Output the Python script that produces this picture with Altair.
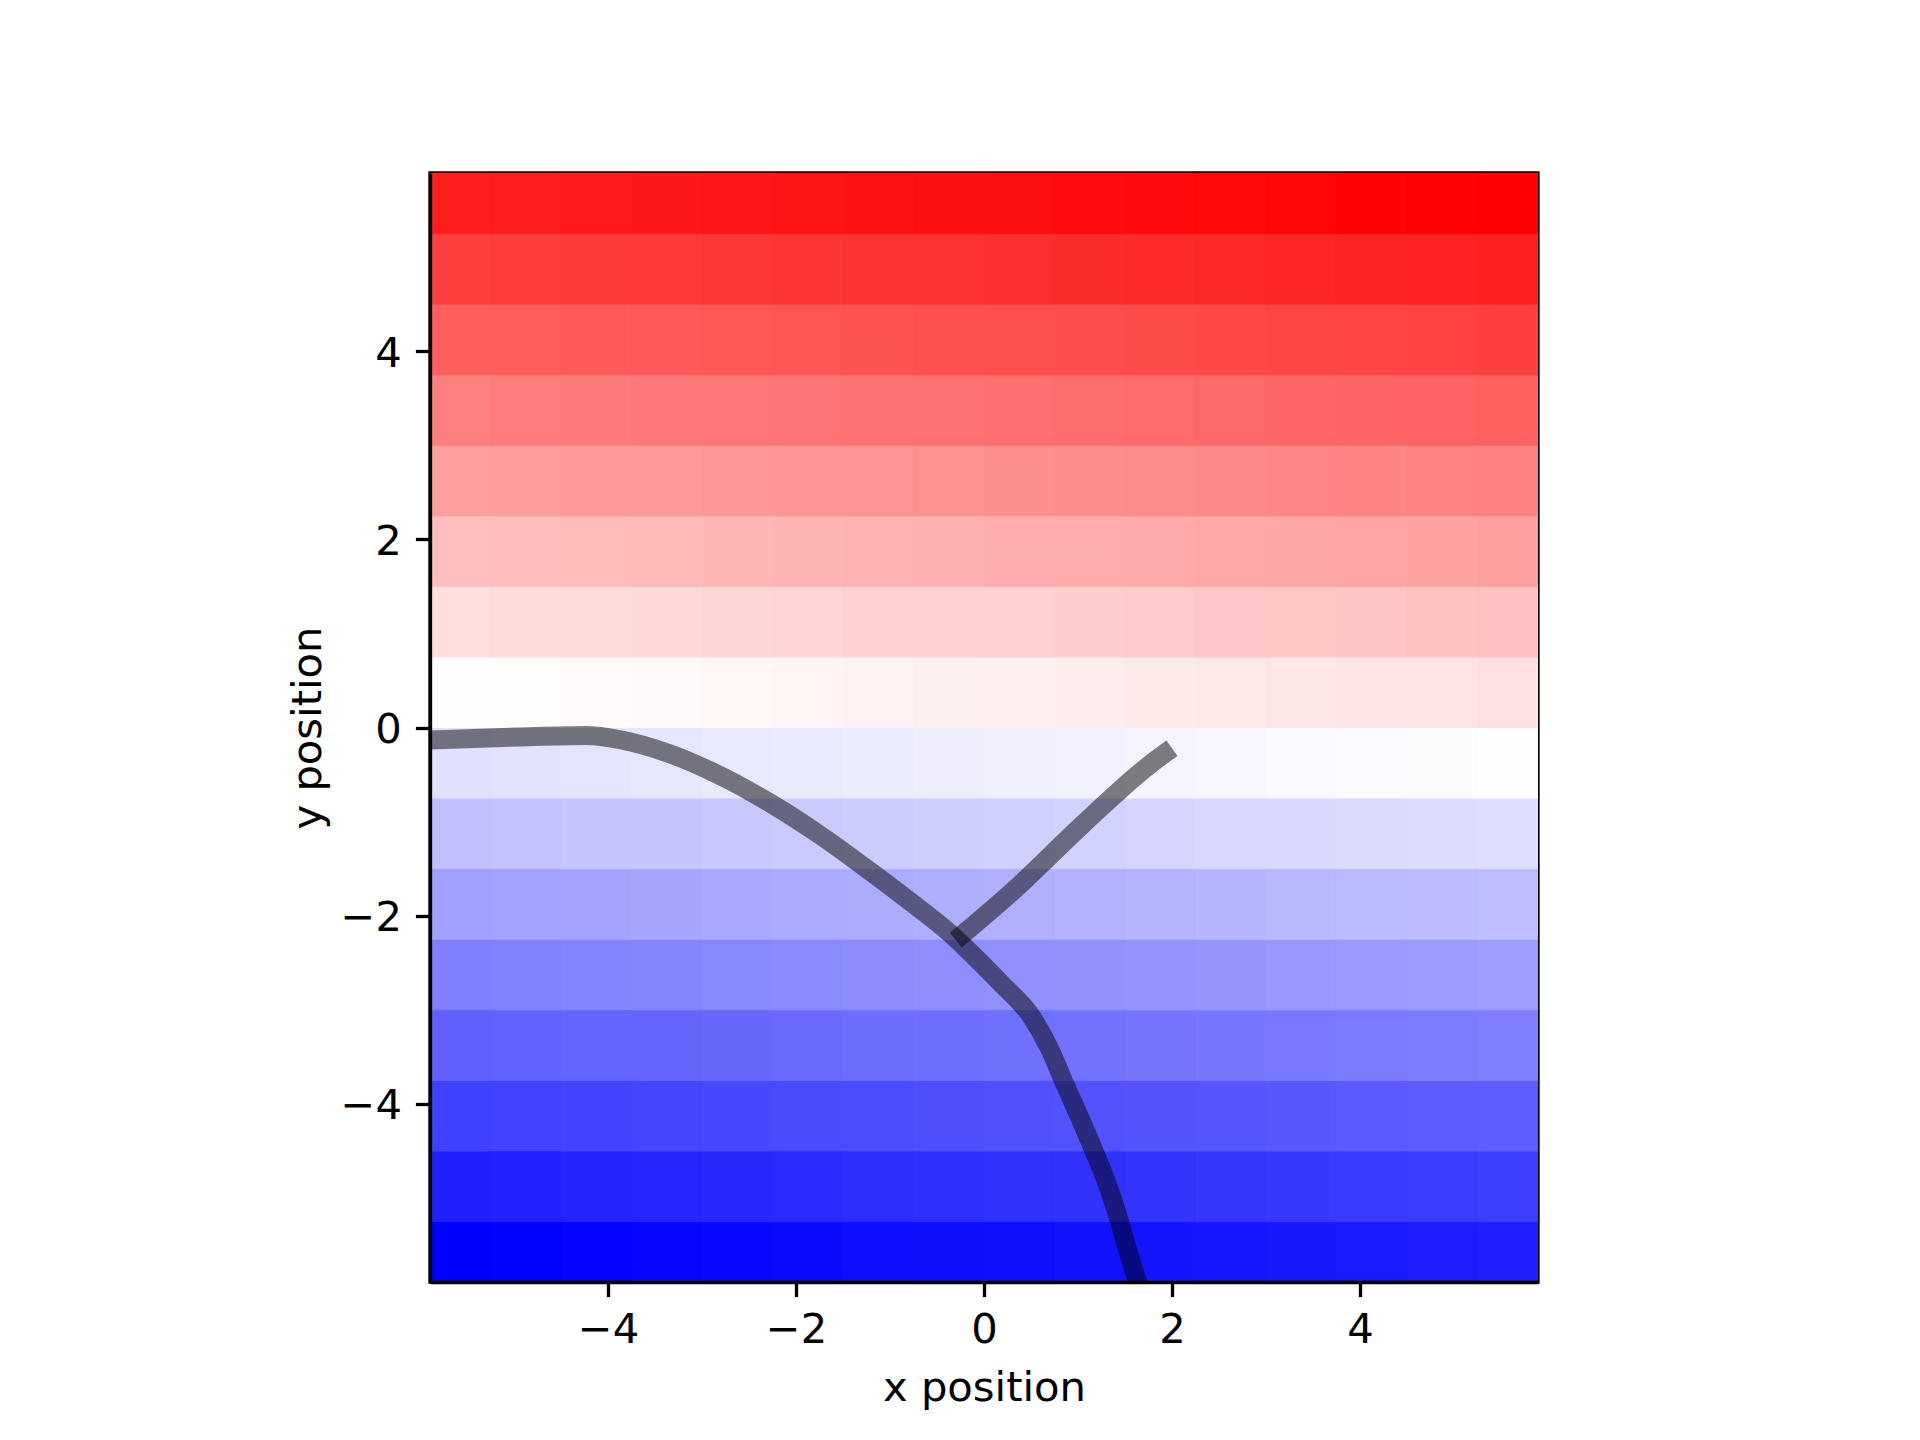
import altair as alt
import pandas as pd

# Cell edges of the colour grid (0.75 units wide, partly clipped by the axes)
x_edges = [-6.0, -5.25, -4.5, -3.75, -3.0, -2.25, -1.5, -0.75, 0.0,
           0.75, 1.5, 2.25, 3.0, 3.75, 4.5, 5.25, 6.0]
y_edges = [-6.0, -5.25, -4.5, -3.75, -3.0, -2.25, -1.5, -0.75, 0.0,
           0.75, 1.5, 2.25, 3.0, 3.75, 4.5, 5.25, 6.0]
# value level of each row (bottom to top) and small offset of each column (left to right)
row_levels = [0, 1, 2, 3, 4, 5, 6, 7, 8, 9, 10, 11, 12, 13, 14, 15]
col_offsets = [0.0, 0.0625, 0.125, 0.1875, 0.25, 0.3125, 0.375, 0.4375,
               0.5, 0.5625, 0.625, 0.6875, 0.75, 0.8125, 0.875, 0.9375]
value_min, value_mid, value_max = 0.0, 7.96875, 15.9375

# Trajectory (main curve and branch)
main_x = [-5.95, -4.94, -4.23, -3.87, -3.34, -2.81, -2.28, -1.75, -1.21, -0.80,
          -0.36, -0.22, 0.19, 0.51, 0.70, 0.86, 1.02, 1.17, 1.31, 1.43, 1.53, 1.63, 1.67]
main_y = [-0.135, -0.10, -0.085, -0.13, -0.28, -0.51, -0.80, -1.14, -1.53, -1.84,
          -2.19, -2.32, -2.73, -3.08, -3.42, -3.79, -4.15, -4.50, -4.85, -5.21, -5.56, -5.88, -6.0]
branch_x = [-0.30, 0.35, 1.05, 1.77, 2.0]
branch_y = [-2.26, -1.70, -1.03, -0.39, -0.22]

x_ticks = [-4, -2, 0, 2, 4]
y_ticks = [-4, -2, 0, 2, 4]
axis_limit = 5.894

cells = []
for i, lvl in enumerate(row_levels):
    for j, off in enumerate(col_offsets):
        cells.append({"x0": x_edges[j], "x1": x_edges[j + 1],
                      "y0": y_edges[i], "y1": y_edges[i + 1],
                      "v": lvl + off})
cells_df = pd.DataFrame(cells)

lines = []
for k, (xv, yv) in enumerate(zip(main_x, main_y)):
    lines.append({"seg": "main", "order": k, "x": xv, "y": yv})
for k, (xv, yv) in enumerate(zip(branch_x, branch_y)):
    lines.append({"seg": "branch", "order": k, "x": xv, "y": yv})
lines_df = pd.DataFrame(lines)

FONT = "DejaVu Sans"
FS = 41.7

xscale = alt.Scale(domain=[-axis_limit, axis_limit], nice=False, zero=False)
yscale = alt.Scale(domain=[-axis_limit, axis_limit], nice=False, zero=False)

common_axis = dict(
    tickSize=14.6, tickWidth=3.3, tickColor="black",
    labelFont=FONT, labelFontSize=FS, labelColor="black",
    domain=True, domainWidth=3.3, domainColor="black", grid=False,
    titleFont=FONT, titleFontSize=FS, titleFontWeight="normal", titleColor="black",
    zindex=1, format="d",
    labelExpr="replace(datum.label, '-', '\u2212')",
)

xaxis = alt.Axis(values=x_ticks, title="x position", labelPadding=13,
                 titleBaseline="alphabetic", titleY=118, **common_axis)
yaxis = alt.Axis(values=y_ticks, title="y position", labelPadding=14,
                 titleBaseline="alphabetic", titleAngle=270, titleX=-110,
                 titleY=554.5, titleAlign="center", labelOffset=2, **common_axis)

color_scale = dict(domain=[value_min, value_mid, value_max],
                   range=["#0000ff", "#ffffff", "#ff0000"], interpolate="rgb")

heat = alt.Chart(cells_df).mark_rect(clip=True, strokeWidth=1).encode(
    x=alt.X("x0:Q", scale=xscale, axis=xaxis),
    x2="x1:Q",
    y=alt.Y("y0:Q", scale=yscale, axis=yaxis),
    y2="y1:Q",
    fill=alt.Fill("v:Q", scale=alt.Scale(**color_scale), legend=None),
    stroke=alt.Stroke("v:Q", scale=alt.Scale(**color_scale), legend=None),
)

traj = alt.Chart(lines_df).mark_line(clip=True, color="black", opacity=0.5,
                                     strokeWidth=19, strokeCap="butt",
                                     strokeJoin="round",
                                     interpolate="monotone").encode(
    x=alt.X("x:Q", scale=xscale),
    y=alt.Y("y:Q", scale=yscale),
    detail="seg:N",
    order="order:Q",
)

chart = alt.layer(heat, traj).properties(
    width=1108, height=1109,
    autosize=alt.AutoSizeParams(type="none"),
    padding={"left": 430, "top": 173, "right": 382, "bottom": 158},
    background="white",
).configure_view(stroke="black", strokeWidth=3.3)

chart.save("out.html", embed_options={"renderer": "svg", "actions": False})
